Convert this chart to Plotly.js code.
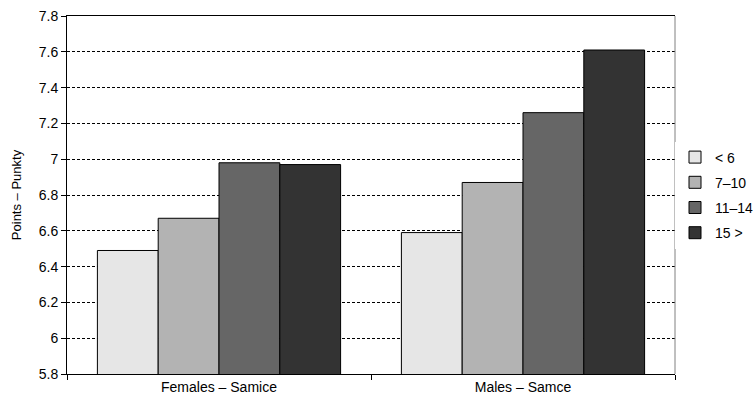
<!DOCTYPE html>
<html><head><meta charset="utf-8">
<script src="https://cdn.plot.ly/plotly-3.0.1.min.js"></script>
<style>body{margin:0;background:#fff}#chart{width:753px;height:406px}</style>
</head><body><div id="chart"></div>
<script>
const categories = ["Females – Samice", "Males – Samce"];
const seriesNames = ["< 6", "7–10", "11–14", "15 >"];
const lt6 = [6.49, 6.59];
const s7to10 = [6.67, 6.87];
const s11to14 = [6.98, 7.26];
const gt15 = [6.97, 7.61];
const seriesValues = [lt6, s7to10, s11to14, gt15];
const colors = ["#e6e6e6", "#b3b3b3", "#666666", "#333333"];
const yTicks = [5.8, 6, 6.2, 6.4, 6.6, 6.8, 7, 7.2, 7.4, 7.6, 7.8];

const traces = seriesNames.map((n, i) => ({
  type: "bar", name: n, x: categories, y: seriesValues[i],
  base: 0, legendgroup: "g" + i,
  marker: {color: colors[i], line: {color: "#000", width: 1}},
  hoverinfo: "y"
}));

const layout = {
  width: 753, height: 406,
  margin: {l: 67, r: 78, t: 16, b: 32, autoexpand: false},
  paper_bgcolor: "#fff", plot_bgcolor: "#fff",
  font: {family: "Liberation Sans, Arial, sans-serif", color: "#000", size: 13},
  barmode: "group", bargap: 0.2, bargroupgap: 0,
  xaxis: {
    showline: true, linecolor: "#000", linewidth: 1, mirror: true,
    ticks: "outside", tickson: "boundaries", ticklen: 5, tickcolor: "#000",
    showgrid: false, tickfont: {size: 14}
  },
  yaxis: {
    range: [5.8, 7.8], tickvals: yTicks, ticktext: yTicks.map(v => String(v)),
    showline: true, linecolor: "#000", linewidth: 1,
    ticks: "outside", ticklen: 5, tickcolor: "#000",
    showgrid: true, gridcolor: "#000", gridwidth: 1, griddash: "3px,2px",
    zeroline: false, tickfont: {size: 14},
    title: {text: "Points – Punkty", font: {size: 13}, standoff: 14}
  },
  legend: {x: 1.0, xanchor: "left", y: 0.5, yanchor: "middle",
    font: {size: 14}, tracegroupgap: 4, itemwidth: 30},
  shapes: [{type: "line", xref: "paper", yref: "paper", x0: 1, x1: 1, y0: 0, y1: 1,
    line: {color: "#808080", width: 1}}],
  showlegend: true
};
Plotly.newPlot("chart", traces, layout, {displayModeBar: false, staticPlot: true});
</script></body></html>
